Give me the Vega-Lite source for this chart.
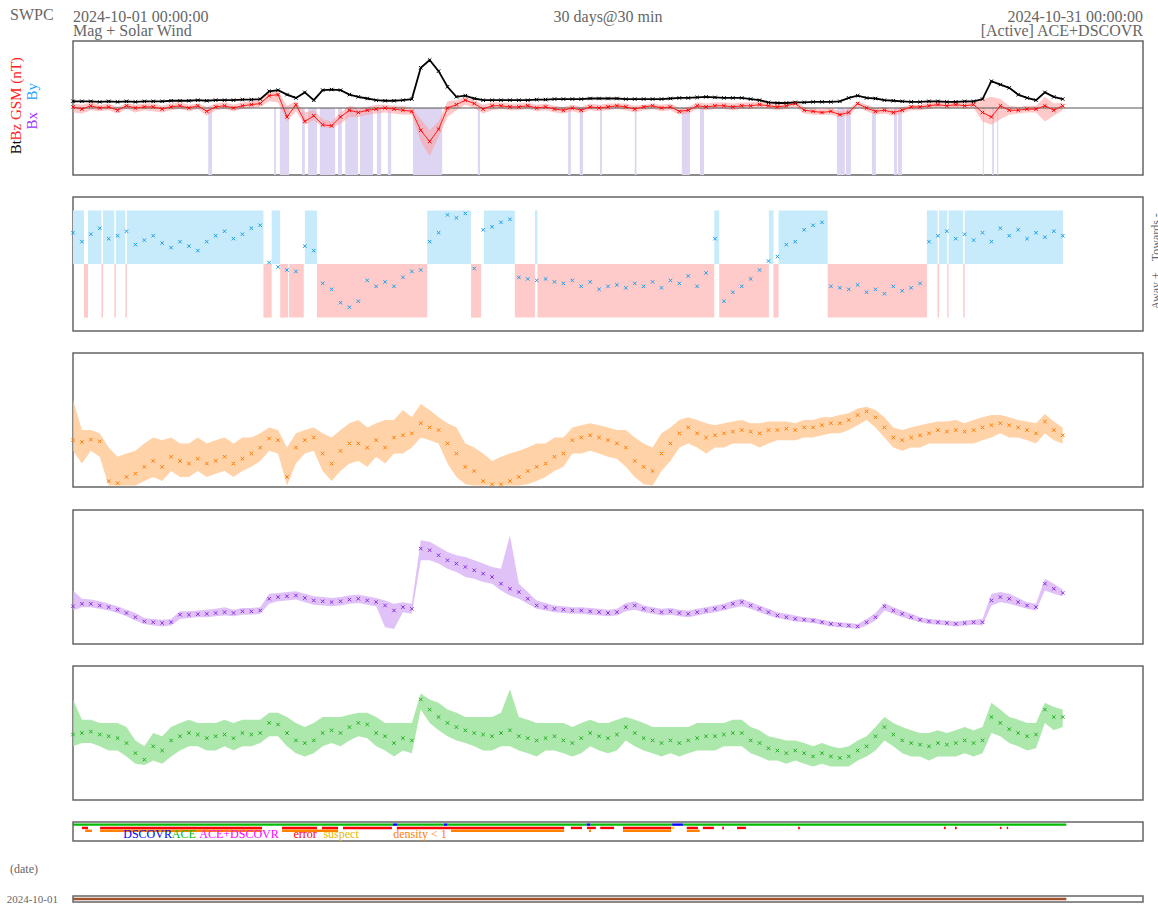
{
"$schema":"https://vega.github.io/schema/vega-lite/v6.json",
"config":{"font":"Liberation Serif","view":{"stroke":"#666666","strokeWidth":1.5}},
"datasets":{
"sw":[
{"t":"2024-10-01T00:00:00Z","bt":6,"bz":1,"bzlo":-4,"bzhi":4,"phi":330,"dens":2.5,"dlo":1.2,"dhi":40,"speed":425,"slo":400,"shi":520,"temp":9e4,"tlo":4e4,"thi":1e6},
{"t":"2024-10-01T06:00:00Z","bt":6,"bz":-1,"bzlo":-5,"bzhi":3,"phi":300,"dens":2.2,"dlo":0.5,"dhi":5,"speed":440,"slo":420,"shi":470,"temp":1e5,"tlo":5e4,"thi":2.5e5},
{"t":"2024-10-01T12:00:00Z","bt":6,"bz":2,"bzlo":-2,"bzhi":5,"phi":325,"dens":2.6,"dlo":1.2,"dhi":5,"speed":440,"slo":420,"shi":465,"temp":1.1e5,"tlo":5e4,"thi":2.5e5},
{"t":"2024-10-01T18:00:00Z","bt":5.5,"bz":0,"bzlo":-3,"bzhi":3,"phi":345,"dens":2.3,"dlo":0.8,"dhi":4,"speed":430,"slo":410,"shi":455,"temp":9e4,"tlo":4e4,"thi":2e5},
{"t":"2024-10-02T00:00:00Z","bt":6,"bz":1,"bzlo":-2,"bzhi":4,"phi":310,"dens":0.15,"dlo":0.11,"dhi":1.5,"speed":420,"slo":400,"shi":440,"temp":8e4,"tlo":3e4,"thi":2e5},
{"t":"2024-10-02T06:00:00Z","bt":5.5,"bz":-2,"bzlo":-5,"bzhi":1,"phi":320,"dens":0.13,"dlo":0.11,"dhi":0.8,"speed":405,"slo":385,"shi":425,"temp":7e4,"tlo":3e4,"thi":2e5},
{"t":"2024-10-02T12:00:00Z","bt":6,"bz":2,"bzlo":-1,"bzhi":4,"phi":335,"dens":0.2,"dlo":0.11,"dhi":1,"speed":385,"slo":365,"shi":405,"temp":5e4,"tlo":2e4,"thi":1.5e5},
{"t":"2024-10-02T18:00:00Z","bt":5.5,"bz":0,"bzlo":-4,"bzhi":3,"phi":290,"dens":0.25,"dlo":0.11,"dhi":1.2,"speed":360,"slo":340,"shi":385,"temp":2.5e4,"tlo":1.2e4,"thi":6e4},
{"t":"2024-10-03T00:00:00Z","bt":6,"bz":1,"bzlo":-2,"bzhi":4,"phi":305,"dens":0.4,"dlo":0.15,"dhi":2,"speed":335,"slo":320,"shi":355,"temp":1.6e4,"tlo":1.1e4,"thi":4e4},
{"t":"2024-10-03T06:00:00Z","bt":6,"bz":1,"bzlo":-3,"bzhi":4,"phi":320,"dens":0.6,"dlo":0.2,"dhi":3,"speed":330,"slo":310,"shi":350,"temp":4e4,"tlo":1.5e4,"thi":1e5},
{"t":"2024-10-03T12:00:00Z","bt":6,"bz":-1,"bzlo":-4,"bzhi":2,"phi":295,"dens":0.4,"dlo":0.15,"dhi":2.5,"speed":325,"slo":305,"shi":345,"temp":3e4,"tlo":1.2e4,"thi":8e4},
{"t":"2024-10-03T18:00:00Z","bt":6.5,"bz":1,"bzlo":-2,"bzhi":4,"phi":280,"dens":0.8,"dlo":0.3,"dhi":3,"speed":330,"slo":310,"shi":350,"temp":6e4,"tlo":2e4,"thi":1.5e5},
{"t":"2024-10-04T00:00:00Z","bt":6.5,"bz":2,"bzlo":-1,"bzhi":5,"phi":300,"dens":0.6,"dlo":0.2,"dhi":2,"speed":375,"slo":350,"shi":395,"temp":8e4,"tlo":3e4,"thi":2e5},
{"t":"2024-10-04T06:00:00Z","bt":6.5,"bz":0,"bzlo":-3,"bzhi":3,"phi":285,"dens":0.5,"dlo":0.2,"dhi":2,"speed":375,"slo":355,"shi":395,"temp":1e5,"tlo":4e4,"thi":2.5e5},
{"t":"2024-10-04T12:00:00Z","bt":7,"bz":2,"bzlo":-1,"bzhi":4,"phi":270,"dens":0.7,"dlo":0.3,"dhi":3,"speed":378,"slo":360,"shi":400,"temp":9e4,"tlo":4e4,"thi":2e5},
{"t":"2024-10-04T18:00:00Z","bt":6.5,"bz":-3,"bzlo":-7,"bzhi":1,"phi":300,"dens":0.5,"dlo":0.2,"dhi":2,"speed":380,"slo":360,"shi":405,"temp":7e4,"tlo":3e4,"thi":2e5},
{"t":"2024-10-05T00:00:00Z","bt":7,"bz":1,"bzlo":-2,"bzhi":4,"phi":320,"dens":0.6,"dlo":0.25,"dhi":2.5,"speed":385,"slo":365,"shi":410,"temp":8e4,"tlo":3e4,"thi":2e5},
{"t":"2024-10-05T06:00:00Z","bt":7,"bz":2,"bzlo":-1,"bzhi":5,"phi":335,"dens":0.8,"dlo":0.3,"dhi":3,"speed":390,"slo":370,"shi":420,"temp":9e4,"tlo":4e4,"thi":2.5e5},
{"t":"2024-10-05T12:00:00Z","bt":7,"bz":0,"bzlo":-3,"bzhi":3,"phi":310,"dens":0.5,"dlo":0.2,"dhi":2,"speed":385,"slo":365,"shi":405,"temp":7e4,"tlo":3e4,"thi":2e5},
{"t":"2024-10-05T18:00:00Z","bt":7.5,"bz":2,"bzlo":-1,"bzhi":5,"phi":325,"dens":0.7,"dlo":0.3,"dhi":3,"speed":395,"slo":375,"shi":415,"temp":1e5,"tlo":4e4,"thi":2.5e5},
{"t":"2024-10-06T00:00:00Z","bt":7.5,"bz":3,"bzlo":0,"bzhi":6,"phi":345,"dens":1,"dlo":0.4,"dhi":3,"speed":395,"slo":375,"shi":415,"temp":9e4,"tlo":4e4,"thi":2.5e5},
{"t":"2024-10-06T06:00:00Z","bt":8,"bz":4,"bzlo":1,"bzhi":8,"phi":355,"dens":1.5,"dlo":0.6,"dhi":4,"speed":400,"slo":380,"shi":420,"temp":1e5,"tlo":5e4,"thi":2.5e5},
{"t":"2024-10-06T12:00:00Z","bt":15,"bz":11,"bzlo":6,"bzhi":15,"phi":230,"dens":2.8,"dlo":1.2,"dhi":6,"speed":470,"slo":440,"shi":500,"temp":2e5,"tlo":8e4,"thi":4e5},
{"t":"2024-10-06T18:00:00Z","bt":16,"bz":12,"bzlo":5,"bzhi":15,"phi":215,"dens":2.5,"dlo":1,"dhi":5,"speed":480,"slo":455,"shi":505,"temp":1.8e5,"tlo":8e4,"thi":4e5},
{"t":"2024-10-07T00:00:00Z","bt":12,"bz":-8,"bzlo":-12,"bzhi":2,"phi":205,"dens":0.2,"dlo":0.11,"dhi":1.5,"speed":485,"slo":460,"shi":510,"temp":1e5,"tlo":4e4,"thi":3e5},
{"t":"2024-10-07T06:00:00Z","bt":9,"bz":3,"bzlo":-3,"bzhi":6,"phi":200,"dens":1.5,"dlo":0.5,"dhi":4,"speed":490,"slo":465,"shi":515,"temp":6e4,"tlo":2.5e4,"thi":2e5},
{"t":"2024-10-07T12:00:00Z","bt":14,"bz":-12,"bzlo":-15,"bzhi":-4,"phi":285,"dens":2.5,"dlo":1,"dhi":5,"speed":475,"slo":450,"shi":500,"temp":5e4,"tlo":2e4,"thi":1.5e5},
{"t":"2024-10-07T18:00:00Z","bt":7,"bz":-7,"bzlo":-11,"bzhi":-2,"phi":270,"dens":3,"dlo":1.2,"dhi":6,"speed":460,"slo":435,"shi":485,"temp":6e4,"tlo":2.5e4,"thi":2e5},
{"t":"2024-10-08T00:00:00Z","bt":16,"bz":-15,"bzlo":-17,"bzhi":-10,"phi":160,"dens":1,"dlo":0.3,"dhi":4,"speed":455,"slo":430,"shi":480,"temp":1e5,"tlo":4e4,"thi":3e5},
{"t":"2024-10-08T06:00:00Z","bt":16.5,"bz":-16,"bzlo":-18,"bzhi":-12,"phi":140,"dens":0.5,"dlo":0.15,"dhi":3,"speed":450,"slo":425,"shi":475,"temp":1.2e5,"tlo":5e4,"thi":3e5},
{"t":"2024-10-08T12:00:00Z","bt":16,"bz":-8,"bzlo":-14,"bzhi":-4,"phi":95,"dens":1.2,"dlo":0.3,"dhi":5,"speed":455,"slo":430,"shi":480,"temp":1e5,"tlo":4e4,"thi":3e5},
{"t":"2024-10-08T18:00:00Z","bt":12,"bz":-2,"bzlo":-8,"bzhi":2,"phi":80,"dens":2,"dlo":0.5,"dhi":8,"speed":465,"slo":440,"shi":490,"temp":1.5e5,"tlo":6e4,"thi":3.5e5},
{"t":"2024-10-09T00:00:00Z","bt":10,"bz":-4,"bzlo":-8,"bzhi":0,"phi":100,"dens":2,"dlo":0.6,"dhi":10,"speed":470,"slo":445,"shi":495,"temp":2e5,"tlo":8e4,"thi":4e5},
{"t":"2024-10-09T06:00:00Z","bt":8.5,"bz":-2,"bzlo":-6,"bzhi":1,"phi":170,"dens":1.5,"dlo":0.4,"dhi":6,"speed":460,"slo":435,"shi":485,"temp":1.8e5,"tlo":7e4,"thi":4e5},
{"t":"2024-10-09T12:00:00Z","bt":7,"bz":-1,"bzlo":-5,"bzhi":3,"phi":150,"dens":2.5,"dlo":0.8,"dhi":8,"speed":450,"slo":425,"shi":475,"temp":1e5,"tlo":4e4,"thi":3e5},
{"t":"2024-10-09T18:00:00Z","bt":6.5,"bz":0,"bzlo":-4,"bzhi":3,"phi":165,"dens":1.5,"dlo":0.5,"dhi":10,"speed":430,"slo":300,"shi":460,"temp":8e4,"tlo":3e4,"thi":2e5},
{"t":"2024-10-10T00:00:00Z","bt":6.5,"bz":-1,"bzlo":-5,"bzhi":2,"phi":150,"dens":3,"dlo":1,"dhi":10,"speed":400,"slo":290,"shi":440,"temp":5e4,"tlo":2e4,"thi":2e5},
{"t":"2024-10-10T06:00:00Z","bt":7,"bz":-2,"bzlo":-6,"bzhi":2,"phi":180,"dens":3.5,"dlo":1,"dhi":20,"speed":420,"slo":390,"shi":450,"temp":7e4,"tlo":3e4,"thi":2e5},
{"t":"2024-10-10T12:00:00Z","bt":8,"bz":-3,"bzlo":-6,"bzhi":0,"phi":200,"dens":4,"dlo":1.5,"dhi":12,"speed":410,"slo":380,"shi":440,"temp":6e4,"tlo":2.5e4,"thi":2e5},
{"t":"2024-10-10T18:00:00Z","bt":36,"bz":-20,"bzlo":-30,"bzhi":-10,"phi":205,"dens":8,"dlo":3,"dhi":30,"speed":770,"slo":700,"shi":820,"temp":1e6,"tlo":5e5,"thi":1.5e6},
{"t":"2024-10-11T00:00:00Z","bt":43,"bz":-30,"bzlo":-43,"bzhi":-20,"phi":300,"dens":6,"dlo":2.5,"dhi":20,"speed":760,"slo":700,"shi":810,"temp":5e5,"tlo":2e5,"thi":1e6},
{"t":"2024-10-11T06:00:00Z","bt":33,"bz":-19,"bzlo":-26,"bzhi":-12,"phi":330,"dens":5,"dlo":2,"dhi":12,"speed":730,"slo":680,"shi":780,"temp":3e5,"tlo":1.2e5,"thi":8e5},
{"t":"2024-10-11T12:00:00Z","bt":19,"bz":0,"bzlo":-8,"bzhi":6,"phi":390,"dens":2,"dlo":0.5,"dhi":8,"speed":700,"slo":650,"shi":750,"temp":2e5,"tlo":8e4,"thi":5e5},
{"t":"2024-10-11T18:00:00Z","bt":10,"bz":3,"bzlo":-2,"bzhi":7,"phi":380,"dens":1,"dlo":0.2,"dhi":6,"speed":680,"slo":630,"shi":730,"temp":1.5e5,"tlo":6e4,"thi":4e5},
{"t":"2024-10-12T00:00:00Z","bt":11,"bz":7,"bzlo":3,"bzhi":10,"phi":395,"dens":0.4,"dlo":0.12,"dhi":2,"speed":660,"slo":600,"shi":720,"temp":1.2e5,"tlo":5e4,"thi":3e5},
{"t":"2024-10-12T06:00:00Z","bt":8.5,"bz":4,"bzlo":0,"bzhi":7,"phi":210,"dens":0.3,"dlo":0.11,"dhi":1.5,"speed":640,"slo":590,"shi":700,"temp":1e5,"tlo":4e4,"thi":3e5},
{"t":"2024-10-12T12:00:00Z","bt":7,"bz":-1,"bzlo":-5,"bzhi":3,"phi":340,"dens":0.15,"dlo":0.11,"dhi":1,"speed":620,"slo":570,"shi":680,"temp":9e4,"tlo":3e4,"thi":3e5},
{"t":"2024-10-12T18:00:00Z","bt":7,"bz":2,"bzlo":-2,"bzhi":5,"phi":350,"dens":0.12,"dlo":0.11,"dhi":0.6,"speed":600,"slo":560,"shi":660,"temp":8e4,"tlo":3e4,"thi":3e5},
{"t":"2024-10-13T00:00:00Z","bt":7,"bz":2,"bzlo":-1,"bzhi":5,"phi":365,"dens":0.12,"dlo":0.11,"dhi":0.8,"speed":560,"slo":520,"shi":650,"temp":1e5,"tlo":4e4,"thi":4e5},
{"t":"2024-10-13T06:00:00Z","bt":7,"bz":1,"bzlo":-2,"bzhi":4,"phi":375,"dens":0.15,"dlo":0.11,"dhi":1,"speed":530,"slo":490,"shi":850,"temp":1.2e5,"tlo":4e4,"thi":2e6},
{"t":"2024-10-13T12:00:00Z","bt":7,"bz":1,"bzlo":-2,"bzhi":4,"phi":180,"dens":0.2,"dlo":0.11,"dhi":1.2,"speed":510,"slo":470,"shi":560,"temp":8e4,"tlo":3e4,"thi":3e5},
{"t":"2024-10-13T18:00:00Z","bt":7,"bz":2,"bzlo":-1,"bzhi":5,"phi":175,"dens":0.3,"dlo":0.12,"dhi":1.5,"speed":470,"slo":440,"shi":510,"temp":7e4,"tlo":2.5e4,"thi":2.5e5},
{"t":"2024-10-14T00:00:00Z","bt":7.5,"bz":0,"bzlo":-3,"bzhi":3,"phi":170,"dens":0.4,"dlo":0.15,"dhi":2,"speed":430,"slo":410,"shi":460,"temp":6e4,"tlo":2e4,"thi":2e5},
{"t":"2024-10-14T06:00:00Z","bt":7.5,"bz":1,"bzlo":-2,"bzhi":4,"phi":175,"dens":0.5,"dlo":0.2,"dhi":2,"speed":420,"slo":400,"shi":445,"temp":7e4,"tlo":3e4,"thi":2e5},
{"t":"2024-10-14T12:00:00Z","bt":8,"bz":-1,"bzlo":-4,"bzhi":2,"phi":165,"dens":0.8,"dlo":0.3,"dhi":3,"speed":410,"slo":390,"shi":430,"temp":8e4,"tlo":3e4,"thi":2e5},
{"t":"2024-10-14T18:00:00Z","bt":8,"bz":-2,"bzlo":-5,"bzhi":1,"phi":160,"dens":1,"dlo":0.4,"dhi":3,"speed":405,"slo":385,"shi":425,"temp":6e4,"tlo":2.5e4,"thi":2e5},
{"t":"2024-10-15T00:00:00Z","bt":8,"bz":0,"bzlo":-3,"bzhi":3,"phi":170,"dens":2.5,"dlo":1,"dhi":6,"speed":400,"slo":380,"shi":420,"temp":5e4,"tlo":2e4,"thi":1.5e5},
{"t":"2024-10-15T06:00:00Z","bt":8,"bz":-2,"bzlo":-5,"bzhi":1,"phi":150,"dens":3,"dlo":1,"dhi":7,"speed":400,"slo":380,"shi":420,"temp":7e4,"tlo":2.5e4,"thi":2e5},
{"t":"2024-10-15T12:00:00Z","bt":8.5,"bz":1,"bzlo":-2,"bzhi":4,"phi":165,"dens":3.5,"dlo":1.2,"dhi":8,"speed":395,"slo":375,"shi":415,"temp":1e5,"tlo":4e4,"thi":2.5e5},
{"t":"2024-10-15T18:00:00Z","bt":8.5,"bz":0,"bzlo":-3,"bzhi":3,"phi":140,"dens":3,"dlo":1,"dhi":7,"speed":390,"slo":370,"shi":410,"temp":8e4,"tlo":3e4,"thi":2e5},
{"t":"2024-10-16T00:00:00Z","bt":8.5,"bz":1,"bzlo":-2,"bzhi":4,"phi":150,"dens":2.5,"dlo":0.8,"dhi":6,"speed":385,"slo":365,"shi":405,"temp":7e4,"tlo":2.5e4,"thi":2e5},
{"t":"2024-10-16T06:00:00Z","bt":8.5,"bz":2,"bzlo":-1,"bzhi":4,"phi":155,"dens":2,"dlo":0.7,"dhi":5,"speed":390,"slo":370,"shi":410,"temp":9e4,"tlo":3e4,"thi":2.5e5},
{"t":"2024-10-16T12:00:00Z","bt":8,"bz":1,"bzlo":-2,"bzhi":4,"phi":145,"dens":1.5,"dlo":0.4,"dhi":5,"speed":420,"slo":395,"shi":445,"temp":1.5e5,"tlo":6e4,"thi":3e5},
{"t":"2024-10-16T18:00:00Z","bt":8,"bz":-1,"bzlo":-4,"bzhi":2,"phi":160,"dens":0.6,"dlo":0.2,"dhi":3,"speed":430,"slo":405,"shi":455,"temp":1e5,"tlo":4e4,"thi":2.5e5},
{"t":"2024-10-17T00:00:00Z","bt":8,"bz":1,"bzlo":-2,"bzhi":3,"phi":150,"dens":0.4,"dlo":0.12,"dhi":2,"speed":410,"slo":390,"shi":430,"temp":7e4,"tlo":3e4,"thi":2e5},
{"t":"2024-10-17T06:00:00Z","bt":8,"bz":2,"bzlo":-1,"bzhi":4,"phi":165,"dens":0.3,"dlo":0.11,"dhi":1.5,"speed":400,"slo":380,"shi":420,"temp":6e4,"tlo":2.5e4,"thi":1.5e5},
{"t":"2024-10-17T12:00:00Z","bt":8,"bz":0,"bzlo":-3,"bzhi":3,"phi":145,"dens":1,"dlo":0.3,"dhi":4,"speed":390,"slo":370,"shi":410,"temp":5e4,"tlo":2e4,"thi":1.5e5},
{"t":"2024-10-17T18:00:00Z","bt":8.5,"bz":1,"bzlo":-2,"bzhi":4,"phi":170,"dens":2,"dlo":0.6,"dhi":6,"speed":395,"slo":375,"shi":415,"temp":6e4,"tlo":2.5e4,"thi":1.5e5},
{"t":"2024-10-18T00:00:00Z","bt":9,"bz":-3,"bzlo":-6,"bzhi":0,"phi":160,"dens":4,"dlo":1.5,"dhi":10,"speed":385,"slo":365,"shi":405,"temp":5e4,"tlo":2e4,"thi":1.5e5},
{"t":"2024-10-18T06:00:00Z","bt":9,"bz":-2,"bzlo":-5,"bzhi":1,"phi":185,"dens":6,"dlo":2,"dhi":12,"speed":380,"slo":360,"shi":400,"temp":6e4,"tlo":2.5e4,"thi":1.5e5},
{"t":"2024-10-18T12:00:00Z","bt":9.5,"bz":2,"bzlo":-1,"bzhi":5,"phi":150,"dens":4,"dlo":1.5,"dhi":10,"speed":390,"slo":370,"shi":410,"temp":7e4,"tlo":3e4,"thi":2e5},
{"t":"2024-10-18T18:00:00Z","bt":10,"bz":1,"bzlo":-2,"bzhi":4,"phi":195,"dens":3,"dlo":1,"dhi":8,"speed":400,"slo":380,"shi":420,"temp":8e4,"tlo":3e4,"thi":2e5},
{"t":"2024-10-19T00:00:00Z","bt":9.5,"bz":2,"bzlo":-1,"bzhi":5,"phi":310,"dens":3.5,"dlo":1.5,"dhi":7,"speed":410,"slo":390,"shi":430,"temp":8e4,"tlo":3e4,"thi":2e5},
{"t":"2024-10-19T06:00:00Z","bt":9,"bz":2,"bzlo":-1,"bzhi":5,"phi":100,"dens":4,"dlo":1.5,"dhi":8,"speed":420,"slo":400,"shi":440,"temp":9e4,"tlo":4e4,"thi":2e5},
{"t":"2024-10-19T12:00:00Z","bt":9,"bz":1,"bzlo":-2,"bzhi":4,"phi":130,"dens":4.5,"dlo":2,"dhi":9,"speed":440,"slo":415,"shi":460,"temp":1e5,"tlo":4e4,"thi":2.5e5},
{"t":"2024-10-19T18:00:00Z","bt":9,"bz":2,"bzlo":-1,"bzhi":5,"phi":150,"dens":5,"dlo":2,"dhi":10,"speed":450,"slo":425,"shi":470,"temp":1e5,"tlo":4e4,"thi":2.5e5},
{"t":"2024-10-20T00:00:00Z","bt":8,"bz":2,"bzlo":-1,"bzhi":5,"phi":175,"dens":4.5,"dlo":2,"dhi":8,"speed":430,"slo":410,"shi":450,"temp":6e4,"tlo":2.5e4,"thi":1.5e5},
{"t":"2024-10-20T06:00:00Z","bt":7,"bz":3,"bzlo":0,"bzhi":6,"phi":205,"dens":4,"dlo":1.5,"dhi":8,"speed":410,"slo":390,"shi":430,"temp":5e4,"tlo":2e4,"thi":1.2e5},
{"t":"2024-10-20T12:00:00Z","bt":5,"bz":2,"bzlo":-1,"bzhi":5,"phi":235,"dens":5,"dlo":2,"dhi":9,"speed":390,"slo":370,"shi":410,"temp":3.5e4,"tlo":1.5e4,"thi":8e4},
{"t":"2024-10-20T18:00:00Z","bt":4.5,"bz":1,"bzlo":-2,"bzhi":4,"phi":250,"dens":5,"dlo":2.5,"dhi":9,"speed":370,"slo":355,"shi":390,"temp":3e4,"tlo":1.5e4,"thi":7e4},
{"t":"2024-10-21T00:00:00Z","bt":4.5,"bz":2,"bzlo":-1,"bzhi":5,"phi":290,"dens":5.5,"dlo":2.5,"dhi":9,"speed":360,"slo":345,"shi":380,"temp":2.5e4,"tlo":1.2e4,"thi":6e4},
{"t":"2024-10-21T06:00:00Z","bt":5,"bz":4,"bzlo":1,"bzhi":6,"phi":300,"dens":5,"dlo":2.5,"dhi":8,"speed":350,"slo":335,"shi":370,"temp":3e4,"tlo":1.5e4,"thi":6e4},
{"t":"2024-10-21T12:00:00Z","bt":5,"bz":-2,"bzlo":-5,"bzhi":1,"phi":340,"dens":6,"dlo":3,"dhi":10,"speed":345,"slo":330,"shi":360,"temp":2.5e4,"tlo":1.2e4,"thi":5e4},
{"t":"2024-10-21T18:00:00Z","bt":5.5,"bz":-3,"bzlo":-6,"bzhi":0,"phi":355,"dens":6,"dlo":3,"dhi":10,"speed":340,"slo":325,"shi":355,"temp":2e4,"tlo":1e4,"thi":4e4},
{"t":"2024-10-22T00:00:00Z","bt":5.5,"bz":-4,"bzlo":-6,"bzhi":-1,"phi":365,"dens":7,"dlo":3.5,"dhi":12,"speed":330,"slo":315,"shi":345,"temp":2.5e4,"tlo":1.2e4,"thi":5e4},
{"t":"2024-10-22T06:00:00Z","bt":5.5,"bz":-3,"bzlo":-6,"bzhi":0,"phi":150,"dens":8,"dlo":4,"dhi":12,"speed":320,"slo":305,"shi":335,"temp":2e4,"tlo":1e4,"thi":4e4},
{"t":"2024-10-22T12:00:00Z","bt":6,"bz":-6,"bzlo":-8,"bzhi":-3,"phi":145,"dens":8,"dlo":4,"dhi":14,"speed":315,"slo":300,"shi":330,"temp":1.8e4,"tlo":1e4,"thi":3.5e4},
{"t":"2024-10-22T18:00:00Z","bt":9,"bz":-4,"bzlo":-7,"bzhi":-1,"phi":140,"dens":10,"dlo":5,"dhi":16,"speed":310,"slo":295,"shi":325,"temp":2e4,"tlo":1e4,"thi":4e4},
{"t":"2024-10-23T00:00:00Z","bt":11,"bz":4,"bzlo":1,"bzhi":6,"phi":155,"dens":14,"dlo":7,"dhi":22,"speed":305,"slo":290,"shi":320,"temp":3e4,"tlo":1.5e4,"thi":6e4},
{"t":"2024-10-23T06:00:00Z","bt":9,"bz":0,"bzlo":-3,"bzhi":3,"phi":130,"dens":18,"dlo":10,"dhi":25,"speed":330,"slo":310,"shi":350,"temp":4e4,"tlo":2e4,"thi":8e4},
{"t":"2024-10-23T12:00:00Z","bt":8.5,"bz":-3,"bzlo":-6,"bzhi":0,"phi":140,"dens":12,"dlo":6,"dhi":20,"speed":360,"slo":340,"shi":385,"temp":8e4,"tlo":3e4,"thi":1.5e5},
{"t":"2024-10-23T18:00:00Z","bt":7,"bz":-2,"bzlo":-5,"bzhi":1,"phi":125,"dens":6,"dlo":3,"dhi":12,"speed":425,"slo":400,"shi":445,"temp":1.5e5,"tlo":6e4,"thi":3e5},
{"t":"2024-10-24T00:00:00Z","bt":6.5,"bz":-4,"bzlo":-7,"bzhi":-1,"phi":150,"dens":3,"dlo":1.5,"dhi":6,"speed":400,"slo":380,"shi":420,"temp":9e4,"tlo":4e4,"thi":2e5},
{"t":"2024-10-24T06:00:00Z","bt":6,"bz":-2,"bzlo":-5,"bzhi":1,"phi":135,"dens":2.5,"dlo":1.2,"dhi":5,"speed":380,"slo":360,"shi":400,"temp":6e4,"tlo":2.5e4,"thi":1.5e5},
{"t":"2024-10-24T12:00:00Z","bt":5.5,"bz":1,"bzlo":-2,"bzhi":3,"phi":145,"dens":3,"dlo":1.5,"dhi":6,"speed":360,"slo":345,"shi":380,"temp":5e4,"tlo":2e4,"thi":1.2e5},
{"t":"2024-10-24T18:00:00Z","bt":5.5,"bz":1,"bzlo":-2,"bzhi":3,"phi":160,"dens":3.5,"dlo":1.5,"dhi":7,"speed":345,"slo":330,"shi":360,"temp":4.5e4,"tlo":2e4,"thi":1e5},
{"t":"2024-10-25T00:00:00Z","bt":6,"bz":2,"bzlo":-1,"bzhi":5,"phi":300,"dens":4,"dlo":2,"dhi":8,"speed":335,"slo":320,"shi":350,"temp":4e4,"tlo":1.5e4,"thi":1e5},
{"t":"2024-10-25T06:00:00Z","bt":6,"bz":3,"bzlo":0,"bzhi":6,"phi":320,"dens":5,"dlo":2,"dhi":9,"speed":330,"slo":315,"shi":345,"temp":5e4,"tlo":2e4,"thi":1.2e5},
{"t":"2024-10-25T12:00:00Z","bt":5.5,"bz":2,"bzlo":-1,"bzhi":5,"phi":335,"dens":4.5,"dlo":2,"dhi":9,"speed":325,"slo":310,"shi":340,"temp":4.5e4,"tlo":2e4,"thi":1e5},
{"t":"2024-10-25T18:00:00Z","bt":5.5,"bz":3,"bzlo":0,"bzhi":6,"phi":310,"dens":5,"dlo":2,"dhi":10,"speed":320,"slo":305,"shi":335,"temp":5e4,"tlo":2e4,"thi":1.2e5},
{"t":"2024-10-26T00:00:00Z","bt":6,"bz":2,"bzlo":-1,"bzhi":5,"phi":325,"dens":4.5,"dlo":2,"dhi":8,"speed":325,"slo":310,"shi":340,"temp":6e4,"tlo":2.5e4,"thi":1.5e5},
{"t":"2024-10-26T06:00:00Z","bt":6,"bz":3,"bzlo":0,"bzhi":6,"phi":305,"dens":5,"dlo":2,"dhi":10,"speed":330,"slo":315,"shi":345,"temp":5e4,"tlo":2e4,"thi":1.2e5},
{"t":"2024-10-26T12:00:00Z","bt":8,"bz":-4,"bzlo":-12,"bzhi":8,"phi":330,"dens":6,"dlo":2.5,"dhi":12,"speed":330,"slo":310,"shi":350,"temp":6e4,"tlo":2.5e4,"thi":1.5e5},
{"t":"2024-10-26T18:00:00Z","bt":24,"bz":-8,"bzlo":-15,"bzhi":10,"phi":300,"dens":7,"dlo":3,"dhi":14,"speed":460,"slo":430,"shi":500,"temp":3e5,"tlo":1e5,"thi":8e5},
{"t":"2024-10-27T00:00:00Z","bt":21,"bz":2,"bzlo":-10,"bzhi":8,"phi":345,"dens":8,"dlo":4,"dhi":14,"speed":480,"slo":450,"shi":510,"temp":2e5,"tlo":8e4,"thi":5e5},
{"t":"2024-10-27T06:00:00Z","bt":18,"bz":-2,"bzlo":-6,"bzhi":2,"phi":320,"dens":7,"dlo":3,"dhi":12,"speed":470,"slo":440,"shi":500,"temp":1.3e5,"tlo":5e4,"thi":3e5},
{"t":"2024-10-27T12:00:00Z","bt":12,"bz":-2,"bzlo":-5,"bzhi":1,"phi":340,"dens":6,"dlo":3,"dhi":10,"speed":450,"slo":425,"shi":475,"temp":1e5,"tlo":4e4,"thi":2.5e5},
{"t":"2024-10-27T18:00:00Z","bt":9,"bz":-1,"bzlo":-4,"bzhi":2,"phi":310,"dens":5,"dlo":2.5,"dhi":9,"speed":430,"slo":410,"shi":450,"temp":8e4,"tlo":3e4,"thi":2e5},
{"t":"2024-10-28T00:00:00Z","bt":7,"bz":-1,"bzlo":-4,"bzhi":2,"phi":330,"dens":4,"dlo":2,"dhi":8,"speed":420,"slo":400,"shi":440,"temp":9e4,"tlo":3.5e4,"thi":2e5},
{"t":"2024-10-28T06:00:00Z","bt":14,"bz":2,"bzlo":-12,"bzhi":10,"phi":315,"dens":9,"dlo":4,"dhi":15,"speed":560,"slo":520,"shi":590,"temp":5e5,"tlo":2e5,"thi":8e5},
{"t":"2024-10-28T12:00:00Z","bt":10,"bz":-2,"bzlo":-7,"bzhi":4,"phi":335,"dens":5,"dlo":2.5,"dhi":9,"speed":530,"slo":500,"shi":560,"temp":3e5,"tlo":1.2e5,"thi":6e5},
{"t":"2024-10-28T18:00:00Z","bt":8,"bz":2,"bzlo":-2,"bzhi":5,"phi":320,"dens":3.5,"dlo":2,"dhi":6,"speed":505,"slo":485,"shi":525,"temp":3e5,"tlo":1.5e5,"thi":5e5}
],
"south":[
{"s":"2024-10-04T19:00:00Z","e":"2024-10-04T21:35:00Z"},
{"s":"2024-10-06T15:20:00Z","e":"2024-10-06T16:35:00Z"},
{"s":"2024-10-06T19:10:00Z","e":"2024-10-07T01:25:00Z"},
{"s":"2024-10-07T10:05:00Z","e":"2024-10-07T12:00:00Z"},
{"s":"2024-10-07T14:10:00Z","e":"2024-10-07T20:10:00Z"},
{"s":"2024-10-07T22:05:00Z","e":"2024-10-08T08:25:00Z"},
{"s":"2024-10-08T10:20:00Z","e":"2024-10-08T12:55:00Z"},
{"s":"2024-10-08T15:10:00Z","e":"2024-10-08T23:45:00Z"},
{"s":"2024-10-09T01:10:00Z","e":"2024-10-09T09:50:00Z"},
{"s":"2024-10-09T12:30:00Z","e":"2024-10-09T15:20:00Z"},
{"s":"2024-10-09T19:55:00Z","e":"2024-10-09T22:05:00Z"},
{"s":"2024-10-10T12:45:00Z","e":"2024-10-11T08:25:00Z"},
{"s":"2024-10-12T08:25:00Z","e":"2024-10-12T09:50:00Z"},
{"s":"2024-10-14T21:10:00Z","e":"2024-10-14T23:00:00Z"},
{"s":"2024-10-15T05:00:00Z","e":"2024-10-15T07:10:00Z"},
{"s":"2024-10-15T18:40:00Z","e":"2024-10-15T19:55:00Z"},
{"s":"2024-10-16T18:00:00Z","e":"2024-10-16T19:10:00Z"},
{"s":"2024-10-18T01:40:00Z","e":"2024-10-18T07:10:00Z"},
{"s":"2024-10-18T13:55:00Z","e":"2024-10-18T16:35:00Z"},
{"s":"2024-10-22T10:05:00Z","e":"2024-10-22T15:20:00Z"},
{"s":"2024-10-22T16:05:00Z","e":"2024-10-22T19:25:00Z"},
{"s":"2024-10-23T09:35:00Z","e":"2024-10-23T12:15:00Z"},
{"s":"2024-10-24T00:30:00Z","e":"2024-10-24T02:25:00Z"},
{"s":"2024-10-24T03:10:00Z","e":"2024-10-24T05:45:00Z"},
{"s":"2024-10-26T12:15:00Z","e":"2024-10-26T12:55:00Z"},
{"s":"2024-10-26T18:30:00Z","e":"2024-10-26T19:40:00Z"},
{"s":"2024-10-26T21:50:00Z","e":"2024-10-26T22:35:00Z"}
],
"toward":[
{"s":"2024-10-01T00:00:00Z","e":"2024-10-01T07:25:00Z"},
{"s":"2024-10-01T10:05:00Z","e":"2024-10-01T19:10:00Z"},
{"s":"2024-10-01T20:10:00Z","e":"2024-10-02T03:50:00Z"},
{"s":"2024-10-02T04:50:00Z","e":"2024-10-02T11:15:00Z"},
{"s":"2024-10-02T12:15:00Z","e":"2024-10-06T08:10:00Z"},
{"s":"2024-10-06T13:40:00Z","e":"2024-10-06T19:25:00Z"},
{"s":"2024-10-07T12:00:00Z","e":"2024-10-07T20:10:00Z"},
{"s":"2024-10-10T22:20:00Z","e":"2024-10-12T03:50:00Z"},
{"s":"2024-10-12T12:30:00Z","e":"2024-10-13T09:20:00Z"},
{"s":"2024-10-13T22:50:00Z","e":"2024-10-14T00:30:00Z"},
{"s":"2024-10-18T23:30:00Z","e":"2024-10-19T02:50:00Z"},
{"s":"2024-10-20T12:15:00Z","e":"2024-10-20T15:20:00Z"},
{"s":"2024-10-20T18:45:00Z","e":"2024-10-22T03:50:00Z"},
{"s":"2024-10-24T22:35:00Z","e":"2024-10-25T05:45:00Z"},
{"s":"2024-10-25T06:45:00Z","e":"2024-10-25T12:15:00Z"},
{"s":"2024-10-25T13:10:00Z","e":"2024-10-25T23:00:00Z"},
{"s":"2024-10-26T00:00:00Z","e":"2024-10-28T18:15:00Z"}
],
"away":[
{"s":"2024-10-01T07:25:00Z","e":"2024-10-01T10:05:00Z"},
{"s":"2024-10-01T19:10:00Z","e":"2024-10-01T20:10:00Z"},
{"s":"2024-10-02T03:50:00Z","e":"2024-10-02T04:50:00Z"},
{"s":"2024-10-02T11:15:00Z","e":"2024-10-02T12:15:00Z"},
{"s":"2024-10-06T08:10:00Z","e":"2024-10-06T13:40:00Z"},
{"s":"2024-10-06T19:25:00Z","e":"2024-10-07T00:45:00Z"},
{"s":"2024-10-07T01:25:00Z","e":"2024-10-07T11:15:00Z"},
{"s":"2024-10-07T20:10:00Z","e":"2024-10-10T22:20:00Z"},
{"s":"2024-10-12T03:50:00Z","e":"2024-10-12T10:35:00Z"},
{"s":"2024-10-13T09:20:00Z","e":"2024-10-13T22:50:00Z"},
{"s":"2024-10-14T00:30:00Z","e":"2024-10-18T23:30:00Z"},
{"s":"2024-10-19T02:50:00Z","e":"2024-10-20T12:15:00Z"},
{"s":"2024-10-20T15:20:00Z","e":"2024-10-20T18:45:00Z"},
{"s":"2024-10-22T03:50:00Z","e":"2024-10-24T22:35:00Z"},
{"s":"2024-10-25T05:45:00Z","e":"2024-10-25T06:45:00Z"},
{"s":"2024-10-25T12:15:00Z","e":"2024-10-25T13:10:00Z"},
{"s":"2024-10-25T23:00:00Z","e":"2024-10-26T00:00:00Z"}
],
"srcace":[
{"s":"2024-10-01T00:00:00Z","e":"2024-10-09T23:15:00Z"},
{"s":"2024-10-10T02:25:00Z","e":"2024-10-11T09:35:00Z"},
{"s":"2024-10-11T12:00:00Z","e":"2024-10-15T09:35:00Z"},
{"s":"2024-10-15T12:00:00Z","e":"2024-10-17T19:10:00Z"},
{"s":"2024-10-18T02:25:00Z","e":"2024-10-28T20:25:00Z"}
],
"srcdscovr":[
{"s":"2024-10-09T23:15:00Z","e":"2024-10-10T02:25:00Z"},
{"s":"2024-10-11T09:35:00Z","e":"2024-10-11T12:00:00Z"},
{"s":"2024-10-15T09:35:00Z","e":"2024-10-15T12:00:00Z"},
{"s":"2024-10-17T19:10:00Z","e":"2024-10-18T02:25:00Z"}
],
"err":[
{"s":"2024-10-01T06:00:00Z","e":"2024-10-01T10:05:00Z"},
{"s":"2024-10-01T18:15:00Z","e":"2024-10-06T07:10:00Z"},
{"s":"2024-10-06T20:40:00Z","e":"2024-10-07T20:10:00Z"},
{"s":"2024-10-07T23:30:00Z","e":"2024-10-08T10:20:00Z"},
{"s":"2024-10-08T13:40:00Z","e":"2024-10-09T22:35:00Z"},
{"s":"2024-10-10T01:55:00Z","e":"2024-10-14T18:30:00Z"},
{"s":"2024-10-14T23:00:00Z","e":"2024-10-15T06:30:00Z"},
{"s":"2024-10-15T09:50:00Z","e":"2024-10-15T15:50:00Z"},
{"s":"2024-10-15T18:45:00Z","e":"2024-10-16T04:05:00Z"},
{"s":"2024-10-16T10:05:00Z","e":"2024-10-17T18:30:00Z"},
{"s":"2024-10-18T05:00:00Z","e":"2024-10-18T12:30:00Z"},
{"s":"2024-10-18T15:50:00Z","e":"2024-10-18T23:15:00Z"},
{"s":"2024-10-19T04:50:00Z","e":"2024-10-19T06:00:00Z"},
{"s":"2024-10-19T14:50:00Z","e":"2024-10-19T20:50:00Z"},
{"s":"2024-10-21T07:55:00Z","e":"2024-10-21T09:05:00Z"},
{"s":"2024-10-25T10:05:00Z","e":"2024-10-25T11:15:00Z"},
{"s":"2024-10-25T17:30:00Z","e":"2024-10-25T18:40:00Z"},
{"s":"2024-10-26T23:45:00Z","e":"2024-10-27T00:45:00Z"},
{"s":"2024-10-27T04:20:00Z","e":"2024-10-27T05:15:00Z"}
],
"susp":[{"s":"2024-10-17T19:10:00Z","e":"2024-10-17T20:40:00Z"}],
"den":[
{"s":"2024-10-01T08:10:00Z","e":"2024-10-01T12:45:00Z"},
{"s":"2024-10-01T18:15:00Z","e":"2024-10-06T07:10:00Z"},
{"s":"2024-10-06T20:40:00Z","e":"2024-10-08T10:20:00Z"},
{"s":"2024-10-11T14:25:00Z","e":"2024-10-14T18:30:00Z"},
{"s":"2024-10-15T11:15:00Z","e":"2024-10-15T12:30:00Z"},
{"s":"2024-10-16T10:05:00Z","e":"2024-10-17T18:30:00Z"},
{"s":"2024-10-18T05:00:00Z","e":"2024-10-18T13:40:00Z"}
],
"span":[{"s":"2024-10-01T00:00:00Z","e":"2024-10-28T20:25:00Z"}]
},
"vconcat":[
{
 "width":1070,"height":134,
 "layer":[
  {"data":{"name":"south"},"mark":{"type":"rect","color":"#ddd5f2"},
   "encoding":{
    "x":{"field":"s","type":"temporal","scale":{"domain":[{"year":2024,"month":10,"date":1,"utc":true},{"year":2024,"month":10,"date":31,"utc":true}]},"axis":{"orient":"bottom","values":[{"year":2024,"month":10,"date":1,"utc":true},{"year":2024,"month":10,"date":4,"utc":true},{"year":2024,"month":10,"date":7,"utc":true},{"year":2024,"month":10,"date":10,"utc":true},{"year":2024,"month":10,"date":13,"utc":true},{"year":2024,"month":10,"date":16,"utc":true},{"year":2024,"month":10,"date":19,"utc":true},{"year":2024,"month":10,"date":22,"utc":true},{"year":2024,"month":10,"date":25,"utc":true},{"year":2024,"month":10,"date":28,"utc":true},{"year":2024,"month":10,"date":31,"utc":true}],"tickSize":-8,"labels":false,"title":null,"grid":false,"domain":false,"tickColor":"#666666"}},
    "x2":{"field":"e"},
    "y":{"datum":0,"type":"quantitative","scale":{"domain":[-60,60]},"axis":{"values":[-60,-40,-20,0,20,40,60],"tickSize":-6,"labelPadding":10,"title":null,"domain":false,"labelColor":"#666666","labelFontSize":12.5,"tickColor":"#666666","gridColor":"#e8e8e8"}},
    "y2":{"datum":-60}}},
  {"data":{"name":"sw"},"mark":{"type":"area","color":"#ff9d9d","opacity":0.55},
   "encoding":{"x":{"field":"t","type":"temporal","axis":null},"y":{"field":"bzlo","type":"quantitative","axis":null},"y2":{"field":"bzhi"}}},
  {"data":{"values":[{}]},"mark":{"type":"rule","color":"#555555","strokeWidth":1},"encoding":{"y":{"datum":0,"type":"quantitative","axis":null}}},
  {"data":{"name":"sw"},"mark":{"type":"line","color":"#000000","strokeWidth":1.8},
   "encoding":{"x":{"field":"t","type":"temporal","axis":null},"y":{"field":"bt","type":"quantitative","axis":null}}},
  {"data":{"name":"sw"},"mark":{"type":"line","color":"#ff1a1a","strokeWidth":1},
   "encoding":{"x":{"field":"t","type":"temporal","axis":null},"y":{"field":"bz","type":"quantitative","axis":null}}},
  {"data":{"name":"sw"},"mark":{"type":"point","shape":"M-1,-1L1,1M-1,1L1,-1","filled":false,"size":12,"strokeWidth":1,"color":"#000000","opacity":1},
   "encoding":{"x":{"field":"t","type":"temporal","axis":null},"y":{"field":"bt","type":"quantitative","axis":null}}},
  {"data":{"name":"sw"},"mark":{"type":"point","shape":"M-1,-1L1,1M-1,1L1,-1","filled":false,"size":12,"strokeWidth":1,"color":"#ff0000","opacity":1},
   "encoding":{"x":{"field":"t","type":"temporal","axis":null},"y":{"field":"bz","type":"quantitative","axis":null}}},
  {"data":{"values":[{}]},"mark":{"type":"text","text":"SWPC","align":"left","baseline":"alphabetic","dx":-63,"fontSize":16,"color":"#666666"},
   "encoding":{"x":{"datum":{"year":2024,"month":10,"date":1,"utc":true},"type":"temporal","axis":null},"y":{"datum":79.1,"type":"quantitative","axis":null}}},
  {"data":{"values":[{}]},"mark":{"type":"text","text":"2024-10-01 00:00:00","align":"left","baseline":"alphabetic","fontSize":16,"color":"#666666"},
   "encoding":{"x":{"datum":{"year":2024,"month":10,"date":1,"utc":true},"type":"temporal","axis":null},"y":{"datum":77,"type":"quantitative","axis":null}}},
  {"data":{"values":[{}]},"mark":{"type":"text","text":"Mag + Solar Wind","align":"left","baseline":"alphabetic","fontSize":16,"color":"#666666"},
   "encoding":{"x":{"datum":{"year":2024,"month":10,"date":1,"utc":true},"type":"temporal","axis":null},"y":{"datum":64.5,"type":"quantitative","axis":null}}},
  {"data":{"values":[{}]},"mark":{"type":"text","text":"30 days@30 min","align":"center","baseline":"alphabetic","fontSize":16,"color":"#666666"},
   "encoding":{"x":{"datum":{"year":2024,"month":10,"date":16,"utc":true},"type":"temporal","axis":null},"y":{"datum":77,"type":"quantitative","axis":null}}},
  {"data":{"values":[{}]},"mark":{"type":"text","text":"2024-10-31 00:00:00","align":"right","baseline":"alphabetic","fontSize":16,"color":"#666666"},
   "encoding":{"x":{"datum":{"year":2024,"month":10,"date":31,"utc":true},"type":"temporal","axis":null},"y":{"datum":77,"type":"quantitative","axis":null}}},
  {"data":{"values":[{}]},"mark":{"type":"text","text":"[Active] ACE+DSCOVR","align":"right","baseline":"alphabetic","fontSize":16,"color":"#666666"},
   "encoding":{"x":{"datum":{"year":2024,"month":10,"date":31,"utc":true},"type":"temporal","axis":null},"y":{"datum":64.5,"type":"quantitative","axis":null}}},
  {"data":{"values":[{}]},"mark":{"type":"text","text":"Bt","angle":270,"align":"center","baseline":"middle","dy":-57,"fontSize":15,"color":"#000000"},
   "encoding":{"x":{"datum":{"year":2024,"month":10,"date":1,"utc":true},"type":"temporal","axis":null},"y":{"datum":-35,"type":"quantitative","axis":null}}},
  {"data":{"values":[{}]},"mark":{"type":"text","text":"Bz GSM (nT)","angle":270,"align":"center","baseline":"middle","dy":-57,"fontSize":15,"color":"#ff2020"},
   "encoding":{"x":{"datum":{"year":2024,"month":10,"date":1,"utc":true},"type":"temporal","axis":null},"y":{"datum":8.2,"type":"quantitative","axis":null}}},
  {"data":{"values":[{}]},"mark":{"type":"text","text":"Bx","angle":270,"align":"center","baseline":"middle","dy":-41,"fontSize":15,"color":"#9932ff"},
   "encoding":{"x":{"datum":{"year":2024,"month":10,"date":1,"utc":true},"type":"temporal","axis":null},"y":{"datum":-11.4,"type":"quantitative","axis":null}}},
  {"data":{"values":[{}]},"mark":{"type":"text","text":"By","angle":270,"align":"center","baseline":"middle","dy":-41,"fontSize":15,"color":"#1aa3ff"},
   "encoding":{"x":{"datum":{"year":2024,"month":10,"date":1,"utc":true},"type":"temporal","axis":null},"y":{"datum":14.5,"type":"quantitative","axis":null}}}
 ]
},
{
 "width":1070,"height":134,
 "layer":[
  {"data":{"name":"toward"},"mark":{"type":"rect","color":"#c8ebfb"},
   "encoding":{
    "x":{"field":"s","type":"temporal","scale":{"domain":[{"year":2024,"month":10,"date":1,"utc":true},{"year":2024,"month":10,"date":31,"utc":true}]},"axis":{"orient":"bottom","values":[{"year":2024,"month":10,"date":1,"utc":true},{"year":2024,"month":10,"date":4,"utc":true},{"year":2024,"month":10,"date":7,"utc":true},{"year":2024,"month":10,"date":10,"utc":true},{"year":2024,"month":10,"date":13,"utc":true},{"year":2024,"month":10,"date":16,"utc":true},{"year":2024,"month":10,"date":19,"utc":true},{"year":2024,"month":10,"date":22,"utc":true},{"year":2024,"month":10,"date":25,"utc":true},{"year":2024,"month":10,"date":28,"utc":true},{"year":2024,"month":10,"date":31,"utc":true}],"tickSize":-8,"labels":false,"title":null,"grid":false,"domain":false,"tickColor":"#666666"}},
    "x2":{"field":"e"},
    "y":{"datum":225,"type":"quantitative","scale":{"domain":[45,405]},"axis":{"values":[135,315],"tickSize":-6,"labelPadding":10,"domain":false,"labelColor":"#666666","labelFontSize":12.5,"tickColor":"#666666","gridColor":"#e8e8e8","title":"Phi GSM (deg)","titleColor":"#22b0f0","titlePadding":24,"titleFontSize":15,"titleFontWeight":"normal"}},
    "y2":{"datum":405}}},
  {"data":{"name":"away"},"mark":{"type":"rect","color":"#ffcaca"},
   "encoding":{"x":{"field":"s","type":"temporal","axis":null},"x2":{"field":"e"},"y":{"datum":45,"type":"quantitative","axis":null},"y2":{"datum":225}}},
  {"data":{"name":"sw"},"mark":{"type":"point","shape":"M-1,-1L1,1M-1,1L1,-1","filled":false,"size":12,"strokeWidth":1,"color":"#1aa0e8","opacity":1},
   "encoding":{"x":{"field":"t","type":"temporal","axis":null},"y":{"field":"phi","type":"quantitative","axis":null}}},
  {"data":{"values":[{}]},"mark":{"type":"text","text":"Towards -","angle":270,"align":"center","baseline":"middle","dy":13,"fontSize":12,"color":"#666666"},
   "encoding":{"x":{"datum":{"year":2024,"month":10,"date":31,"utc":true},"type":"temporal","axis":null},"y":{"datum":315,"type":"quantitative","axis":null}}},
  {"data":{"values":[{}]},"mark":{"type":"text","text":"Away +","angle":270,"align":"center","baseline":"middle","dy":13,"fontSize":12,"color":"#666666"},
   "encoding":{"x":{"datum":{"year":2024,"month":10,"date":31,"utc":true},"type":"temporal","axis":null},"y":{"datum":135,"type":"quantitative","axis":null}}}
 ]
},
{
 "width":1070,"height":134,
 "layer":[
  {"data":{"name":"sw"},"mark":{"type":"area","color":"#ffc38a","opacity":0.75},
   "encoding":{
    "x":{"field":"t","type":"temporal","scale":{"domain":[{"year":2024,"month":10,"date":1,"utc":true},{"year":2024,"month":10,"date":31,"utc":true}]},"axis":{"orient":"bottom","values":[{"year":2024,"month":10,"date":1,"utc":true},{"year":2024,"month":10,"date":4,"utc":true},{"year":2024,"month":10,"date":7,"utc":true},{"year":2024,"month":10,"date":10,"utc":true},{"year":2024,"month":10,"date":13,"utc":true},{"year":2024,"month":10,"date":16,"utc":true},{"year":2024,"month":10,"date":19,"utc":true},{"year":2024,"month":10,"date":22,"utc":true},{"year":2024,"month":10,"date":25,"utc":true},{"year":2024,"month":10,"date":28,"utc":true},{"year":2024,"month":10,"date":31,"utc":true}],"tickSize":-8,"labels":false,"title":null,"grid":false,"domain":false,"tickColor":"#666666"}},
    "y":{"field":"dlo","type":"quantitative","scale":{"type":"log","domain":[0.11,1000]},"axis":{"values":[1,10,100,1000],"format":"d","tickSize":-6,"labelPadding":10,"domain":false,"labelColor":"#666666","labelFontSize":12.5,"tickColor":"#666666","gridColor":"#e8e8e8","title":"Density (1/cm³)","titleColor":"#ff8c1a","titlePadding":19,"titleFontSize":15,"titleFontWeight":"normal"}},
    "y2":{"field":"dhi"}}},
  {"data":{"name":"sw"},"mark":{"type":"point","shape":"M-1,-1L1,1M-1,1L1,-1","filled":false,"size":12,"strokeWidth":1,"color":"#ff7b00","opacity":1},
   "encoding":{"x":{"field":"t","type":"temporal","axis":null},"y":{"field":"dens","type":"quantitative","axis":null}}}
 ]
},
{
 "width":1070,"height":134,
 "layer":[
  {"data":{"name":"sw"},"mark":{"type":"area","color":"#d5aef5","opacity":0.75},
   "encoding":{
    "x":{"field":"t","type":"temporal","scale":{"domain":[{"year":2024,"month":10,"date":1,"utc":true},{"year":2024,"month":10,"date":31,"utc":true}]},"axis":{"orient":"bottom","values":[{"year":2024,"month":10,"date":1,"utc":true},{"year":2024,"month":10,"date":4,"utc":true},{"year":2024,"month":10,"date":7,"utc":true},{"year":2024,"month":10,"date":10,"utc":true},{"year":2024,"month":10,"date":13,"utc":true},{"year":2024,"month":10,"date":16,"utc":true},{"year":2024,"month":10,"date":19,"utc":true},{"year":2024,"month":10,"date":22,"utc":true},{"year":2024,"month":10,"date":25,"utc":true},{"year":2024,"month":10,"date":28,"utc":true},{"year":2024,"month":10,"date":31,"utc":true}],"tickSize":-8,"labels":false,"title":null,"grid":false,"domain":false,"tickColor":"#666666"}},
    "y":{"field":"slo","type":"quantitative","scale":{"domain":[200,1000]},"axis":{"values":[200,400,600,800,1000],"format":"d","tickSize":-6,"labelPadding":10,"domain":false,"labelColor":"#666666","labelFontSize":12.5,"tickColor":"#666666","gridColor":"#e8e8e8","title":"Speed (km/s)","titleColor":"#a040e8","titlePadding":19,"titleFontSize":15,"titleFontWeight":"normal"}},
    "y2":{"field":"shi"}}},
  {"data":{"name":"sw"},"mark":{"type":"point","shape":"M-1,-1L1,1M-1,1L1,-1","filled":false,"size":12,"strokeWidth":1,"color":"#8a2be2","opacity":1},
   "encoding":{"x":{"field":"t","type":"temporal","axis":null},"y":{"field":"speed","type":"quantitative","axis":null}}}
 ]
},
{
 "width":1070,"height":134,
 "layer":[
  {"data":{"name":"sw"},"mark":{"type":"area","color":"#90e090","opacity":0.75},
   "encoding":{
    "x":{"field":"t","type":"temporal","scale":{"domain":[{"year":2024,"month":10,"date":1,"utc":true},{"year":2024,"month":10,"date":31,"utc":true}]},"axis":{"orient":"bottom","values":[{"year":2024,"month":10,"date":1,"utc":true},{"year":2024,"month":10,"date":4,"utc":true},{"year":2024,"month":10,"date":7,"utc":true},{"year":2024,"month":10,"date":10,"utc":true},{"year":2024,"month":10,"date":13,"utc":true},{"year":2024,"month":10,"date":16,"utc":true},{"year":2024,"month":10,"date":19,"utc":true},{"year":2024,"month":10,"date":22,"utc":true},{"year":2024,"month":10,"date":25,"utc":true},{"year":2024,"month":10,"date":28,"utc":true},{"year":2024,"month":10,"date":31,"utc":true}],"tickSize":-8,"labels":false,"title":null,"grid":false,"domain":false,"tickColor":"#666666"}},
    "y":{"field":"tlo","type":"quantitative","scale":{"type":"log","domain":[4600,4900000]},"axis":{"values":[10000,100000,1000000],"format":".0e","tickSize":-6,"labelPadding":10,"domain":false,"labelColor":"#666666","labelFontSize":12.5,"tickColor":"#666666","gridColor":"#e8e8e8","title":"Temperature (°K)","titleColor":"#33cc33","titlePadding":19,"titleFontSize":15,"titleFontWeight":"normal"}},
    "y2":{"field":"thi"}}},
  {"data":{"name":"sw"},"mark":{"type":"point","shape":"M-1,-1L1,1M-1,1L1,-1","filled":false,"size":12,"strokeWidth":1,"color":"#20b020","opacity":1},
   "encoding":{"x":{"field":"t","type":"temporal","axis":null},"y":{"field":"temp","type":"quantitative","axis":null}}}
 ]
},
{
 "width":1070,"height":19,
 "layer":[
  {"data":{"name":"srcace"},"mark":{"type":"rect","color":"#00bb00"},
   "encoding":{
    "x":{"field":"s","type":"temporal","scale":{"domain":[{"year":2024,"month":10,"date":1,"utc":true},{"year":2024,"month":10,"date":31,"utc":true}]},"axis":{"orient":"bottom","values":[{"year":2024,"month":10,"date":1,"utc":true},{"year":2024,"month":10,"date":4,"utc":true},{"year":2024,"month":10,"date":7,"utc":true},{"year":2024,"month":10,"date":10,"utc":true},{"year":2024,"month":10,"date":13,"utc":true},{"year":2024,"month":10,"date":16,"utc":true},{"year":2024,"month":10,"date":19,"utc":true},{"year":2024,"month":10,"date":22,"utc":true},{"year":2024,"month":10,"date":25,"utc":true},{"year":2024,"month":10,"date":28,"utc":true},{"year":2024,"month":10,"date":31,"utc":true}],"format":"%b %-d","ticks":false,"labelPadding":3,"labelFontSize":13,"labelColor":"#666666","labelFlush":false,"title":null,"grid":false,"domain":false}},
    "x2":{"field":"e"},
    "y":{"datum":16,"type":"quantitative","scale":{"domain":[0,19]},"axis":null},
    "y2":{"datum":18.5}}},
  {"data":{"name":"srcdscovr"},"mark":{"type":"rect","color":"#0000ff"},
   "encoding":{"x":{"field":"s","type":"temporal","axis":null},"x2":{"field":"e"},"y":{"datum":16,"type":"quantitative","axis":null},"y2":{"datum":18.5}}},
  {"data":{"name":"err"},"mark":{"type":"rect","color":"#ff0000"},
   "encoding":{"x":{"field":"s","type":"temporal","axis":null},"x2":{"field":"e"},"y":{"datum":12.5,"type":"quantitative","axis":null},"y2":{"datum":15}}},
  {"data":{"name":"susp"},"mark":{"type":"rect","color":"#ffcc00"},
   "encoding":{"x":{"field":"s","type":"temporal","axis":null},"x2":{"field":"e"},"y":{"datum":12.5,"type":"quantitative","axis":null},"y2":{"datum":15}}},
  {"data":{"name":"den"},"mark":{"type":"rect","color":"#ff8000"},
   "encoding":{"x":{"field":"s","type":"temporal","axis":null},"x2":{"field":"e"},"y":{"datum":9.5,"type":"quantitative","axis":null},"y2":{"datum":12}}},
  {"data":{"values":[{}]},"mark":{"type":"text","text":"DSCOVR","align":"left","baseline":"alphabetic","fontSize":12,"color":"#0000ff"},
   "encoding":{"x":{"datum":{"year":2024,"month":10,"date":2,"hours":9,"minutes":50,"utc":true},"type":"temporal","axis":null},"y":{"datum":3.5,"type":"quantitative","axis":null}}},
  {"data":{"values":[{}]},"mark":{"type":"text","text":"ACE","align":"left","baseline":"alphabetic","fontSize":12,"color":"#00bb00"},
   "encoding":{"x":{"datum":{"year":2024,"month":10,"date":3,"hours":18,"minutes":30,"utc":true},"type":"temporal","axis":null},"y":{"datum":3.5,"type":"quantitative","axis":null}}},
  {"data":{"values":[{}]},"mark":{"type":"text","text":"ACE+DSCOVR","align":"left","baseline":"alphabetic","fontSize":12,"color":"#ff00ff"},
   "encoding":{"x":{"datum":{"year":2024,"month":10,"date":4,"hours":13,"utc":true},"type":"temporal","axis":null},"y":{"datum":3.5,"type":"quantitative","axis":null}}},
  {"data":{"values":[{}]},"mark":{"type":"text","text":"error","align":"left","baseline":"alphabetic","fontSize":12,"color":"#ff0000"},
   "encoding":{"x":{"datum":{"year":2024,"month":10,"date":7,"hours":4,"minutes":20,"utc":true},"type":"temporal","axis":null},"y":{"datum":3.5,"type":"quantitative","axis":null}}},
  {"data":{"values":[{}]},"mark":{"type":"text","text":"suspect","align":"left","baseline":"alphabetic","fontSize":12,"color":"#e6b800"},
   "encoding":{"x":{"datum":{"year":2024,"month":10,"date":8,"hours":0,"minutes":30,"utc":true},"type":"temporal","axis":null},"y":{"datum":3.5,"type":"quantitative","axis":null}}},
  {"data":{"values":[{}]},"mark":{"type":"text","text":"density < 1","align":"left","baseline":"alphabetic","fontSize":12,"color":"#ff8000"},
   "encoding":{"x":{"datum":{"year":2024,"month":10,"date":9,"hours":23,"minutes":30,"utc":true},"type":"temporal","axis":null},"y":{"datum":3.5,"type":"quantitative","axis":null}}}
 ]
},
{
 "width":1070,"height":6,
 "layer":[
  {"data":{"name":"span"},"mark":{"type":"rect","color":"#a0522d"},
   "encoding":{
    "x":{"field":"s","type":"temporal","scale":{"domain":[{"year":2024,"month":10,"date":1,"utc":true},{"year":2024,"month":10,"date":31,"utc":true}]},"axis":{"orient":"bottom","values":[{"year":2024,"month":10,"date":1,"utc":true},{"year":2024,"month":10,"date":4,"utc":true},{"year":2024,"month":10,"date":7,"utc":true},{"year":2024,"month":10,"date":10,"utc":true},{"year":2024,"month":10,"date":13,"utc":true},{"year":2024,"month":10,"date":16,"utc":true},{"year":2024,"month":10,"date":19,"utc":true},{"year":2024,"month":10,"date":22,"utc":true},{"year":2024,"month":10,"date":25,"utc":true},{"year":2024,"month":10,"date":28,"utc":true},{"year":2024,"month":10,"date":31,"utc":true}],"format":"%b %-d","tickSize":3,"labelPadding":1,"labelFontSize":13,"labelColor":"#666666","labelFlush":false,"tickColor":"#666666","title":null,"grid":false,"domain":false}},
    "x2":{"field":"e"},
    "y":{"datum":0.3,"type":"quantitative","scale":{"domain":[0,1]},"axis":null},
    "y2":{"datum":0.7}}},
  {"data":{"values":[{}]},"mark":{"type":"text","text":"(date)","align":"right","baseline":"alphabetic","dx":-35,"fontSize":12,"color":"#666666"},
   "encoding":{"x":{"datum":{"year":2024,"month":10,"date":1,"utc":true},"type":"temporal","axis":null},"y":{"datum":4.8,"type":"quantitative","axis":null}}},
  {"data":{"values":[{}]},"mark":{"type":"text","text":"2024-10-01","align":"right","baseline":"alphabetic","dx":-15,"fontSize":11,"color":"#666666"},
   "encoding":{"x":{"datum":{"year":2024,"month":10,"date":1,"utc":true},"type":"temporal","axis":null},"y":{"datum":-0.13,"type":"quantitative","axis":null}}},
  {"data":{"values":[{}]},"mark":{"type":"text","text":"00:00:00","align":"right","baseline":"alphabetic","dx":-15,"fontSize":11,"color":"#666666"},
   "encoding":{"x":{"datum":{"year":2024,"month":10,"date":1,"utc":true},"type":"temporal","axis":null},"y":{"datum":-1.88,"type":"quantitative","axis":null}}}
 ]
}
]
}
